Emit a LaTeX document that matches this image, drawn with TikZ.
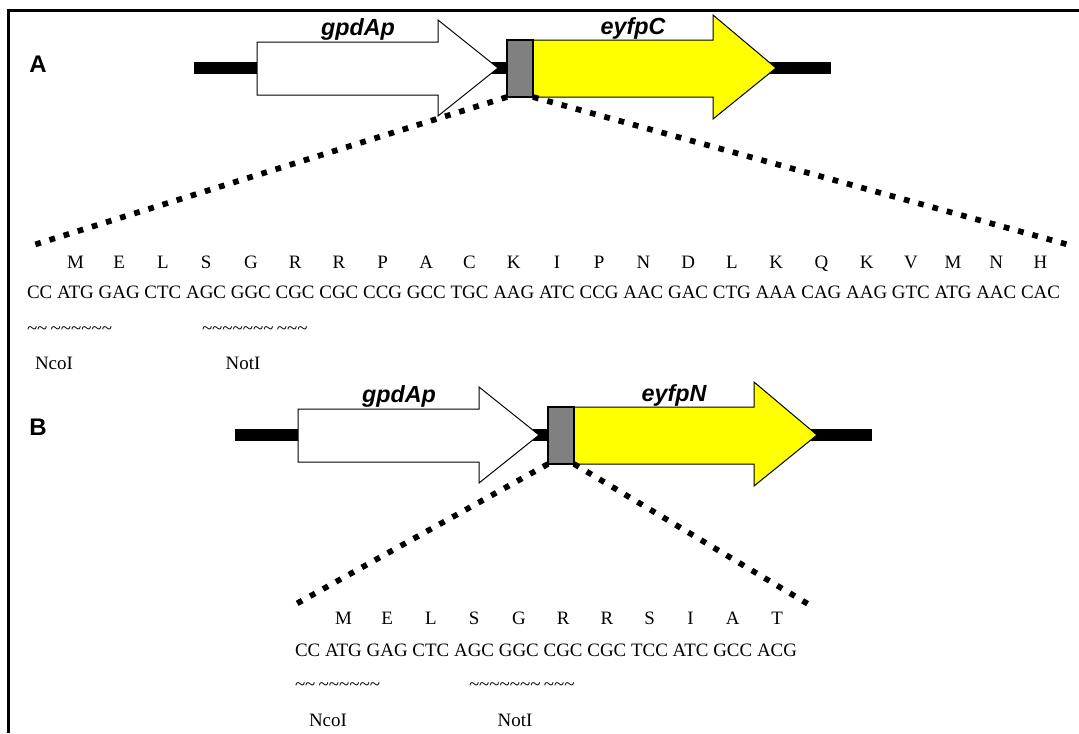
\documentclass[tikz,border=0pt]{standalone}
\usepackage{fontspec}
\setmainfont{Liberation Serif}
\newfontfamily\labelfont{Liberation Sans}
\usetikzlibrary{calc}

\definecolor{linkgray}{RGB}{128,128,128}
\definecolor{orfyellow}{RGB}{255,255,0}

\newcommand\tld{\textasciitilde}

% one construct: backbone, promoter arrow, linker box, ORF arrow and labels
\newcommand\genemap[3]{% #1 shift, #2 name prefix, #3 ORF label
  \begin{scope}[shift={(#1)}]
    \draw[backbone] (194,68) -- (831,68);
    \draw[promoter] (257,42) -- (438,42) -- (438,20) -- (498,68) -- (438,116)
      -- (438,95) -- (257,95) -- cycle;
    \draw[orf] (533,40) -- (713,40) -- (713,15) -- (776,68) -- (713,119)
      -- (713,97) -- (533,97) -- cycle;
    \node[linker] (#2link) at (520,68.5) {};
    \node[genelabel] (#2prom) at (358,35) {gpdAp};
    \node[genelabel] (#2orf) at (633,34) {#3};
  \end{scope}}

\tikzset{
  seq/.style={font=\fontsize{14.2}{16}\selectfont, inner sep=0pt, outer sep=0pt},
  genelabel/.style={font=\labelfont\bfseries\itshape\fontsize{17.5}{19}\selectfont,
    inner sep=0pt, anchor=base},
  panel/.style={font=\labelfont\bfseries\fontsize{18}{20}\selectfont, inner sep=0pt},
  backbone/.style={line width=9pt},
  promoter/.style={draw=black, fill=white, line width=0.75pt, line join=miter},
  orf/.style={draw=black, fill=orfyellow, line width=0.75pt, line join=miter},
  linker/.style={draw=black, fill=linkgray, line width=1.1pt, inner sep=0pt,
    outer sep=0pt, minimum width=19.5pt, minimum height=42.75pt},
  zoomline/.style={line width=4.3pt, dash pattern=on 4.3pt off 6.8pt},
  frame/.style={line width=2.25pt},
}

\begin{document}
\begin{tikzpicture}[x=0.75pt, y=-0.75pt]
  \useasboundingbox (0,0) rectangle (1079,733);
  \draw[frame] (8.5,733) -- (8.5,10.5) -- (1079,10.5);

  % ---------- construct A ----------
  \node[panel] (labelA) at (38,64) {A};
  \genemap{0,0}{A}{eyfpC}
  \coordinate (Aleft) at (27,247);
  \coordinate (Aright) at (1073,246);
  \draw[zoomline] (Alink.south west) -- (Aleft);
  \draw[zoomline] (Alink.south east) -- (Aright);

  \node[seq, anchor=base west] (dnaA0) at (27,298) {CC};
  \foreach \codon/\amino [count=\i, remember=\i as \j (initially 0)] in
    {ATG/M, GAG/E, CTC/L, AGC/S, GGC/G, CGC/R, CGC/R, CCG/P, GCC/A, TGC/C,
     AAG/K, ATC/I, CCG/P, AAC/N, GAC/D, CTG/L, AAA/K, CAG/Q, AAG/K, GTC/V,
     ATG/M, AAC/N, CAC/H} {
    \node[seq, anchor=base west] (dnaA\i) at ([xshift=3.6pt]dnaA\j.base east) {\codon};
    \node[seq, anchor=base] (aaA\i) at (dnaA\i.base |- 0,268) {\amino};
  }
  \node[seq, anchor=west] (ncoSiteA) at (27,331) {\tld\tld\,\tld\tld\tld\tld\tld\tld};
  \node[seq, anchor=west] (notSiteA) at (202,331) {\tld\tld\tld\tld\tld\tld\tld\,\tld\tld\tld};
  \node[seq] (ncoA) at (54,363) {NcoI};
  \node[seq] (notA) at (243,363) {NotI};

  % ---------- construct B ----------
  \node[panel] (labelB) at (38,427) {B};
  \genemap{41,367}{B}{eyfpN}
  \coordinate (Bleft) at (296,604);
  \coordinate (Bright) at (808,604);
  \draw[zoomline] (Blink.south west) -- (Bleft);
  \draw[zoomline] (Blink.south east) -- (Bright);

  \node[seq, anchor=base west] (dnaB0) at (295,656) {CC};
  \foreach \codon/\amino [count=\i, remember=\i as \j (initially 0)] in
    {ATG/M, GAG/E, CTC/L, AGC/S, GGC/G, CGC/R, CGC/R, TCC/S, ATC/I, GCC/A, ACG/T} {
    \node[seq, anchor=base west] (dnaB\i) at ([xshift=3.6pt]dnaB\j.base east) {\codon};
    \node[seq, anchor=base] (aaB\i) at (dnaB\i.base |- 0,624) {\amino};
  }
  \node[seq, anchor=west] (ncoSiteB) at (295,687) {\tld\tld\,\tld\tld\tld\tld\tld\tld};
  \node[seq, anchor=west] (notSiteB) at (469,687) {\tld\tld\tld\tld\tld\tld\tld\,\tld\tld\tld};
  \node[seq] (ncoB) at (328,720) {NcoI};
  \node[seq] (notB) at (515,720) {NotI};
\end{tikzpicture}
\end{document}
